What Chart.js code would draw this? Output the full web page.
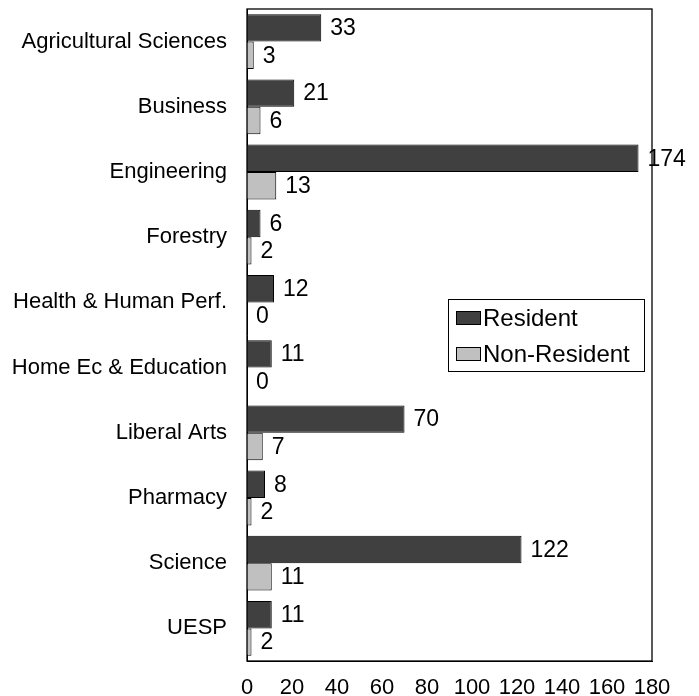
<!DOCTYPE html>
<html>
<head>
<meta charset="utf-8">
<script src="https://cdn.jsdelivr.net/npm/chart.js@4"></script>
<style>
html,body{margin:0;padding:0;background:#fff;}
#wrap{width:699px;height:696px;position:relative;}
</style>
</head>
<body>
<div id="wrap"><canvas id="c" width="699" height="696"></canvas></div>
<script>
const categories = ["Agricultural Sciences","Business","Engineering","Forestry","Health & Human Perf.","Home Ec & Education","Liberal Arts","Pharmacy","Science","UESP"];
const residentValues = [33,21,174,6,12,11,70,8,122,11];
const nonResidentValues = [3,6,13,2,0,0,7,2,11,2];
const xTicks = [0,20,40,60,80,100,120,140,160,180];

const FONT = "'Liberation Sans', Arial, sans-serif";
const FS = 22;
const VFS = 23;
const LFS = 24;

const boxPlugin = {
  id: 'boxPlugin',
  afterDatasetsDraw(chart) {
    const ctx = chart.ctx;
    const a = chart.chartArea;
    ctx.save();
    ctx.font = VFS + "px " + FONT;
    ctx.fillStyle = "#000";
    ctx.textAlign = "left";
    ctx.textBaseline = "middle";
    chart.data.datasets.forEach((ds, di) => {
      const meta = chart.getDatasetMeta(di);
      meta.data.forEach((bar, i) => {
        ctx.fillText(String(ds.data[i]), bar.x + 9, bar.y + 1);
      });
    });
    ctx.strokeStyle = "#000";
    ctx.lineWidth = 1.3;
    ctx.strokeRect(a.left, a.top, a.right - a.left, a.bottom - a.top);
    const lx = 448, ly = 299, lw = 196, lh = 72;
    ctx.fillStyle = "#fff";
    ctx.fillRect(lx, ly, lw, lh);
    ctx.lineWidth = 1;
    ctx.strokeRect(lx + 0.5, ly + 0.5, lw, lh);
    chart.data.datasets.forEach((ds, k) => {
      const cy = 318 + k * 36;
      ctx.fillStyle = ds.backgroundColor;
      ctx.fillRect(456, cy - 7, 25, 14);
      ctx.strokeStyle = "#000";
      ctx.strokeRect(456.5, cy - 6.5, 24, 13);
      ctx.fillStyle = "#000";
      ctx.font = LFS + "px " + FONT;
      ctx.textBaseline = "middle";
      ctx.fillText(ds.label, 483, cy + 1);
    });
    ctx.restore();
  }
};

new Chart(document.getElementById('c'), {
  type: 'bar',
  data: {
    labels: categories,
    datasets: [
      { label: 'Resident', data: residentValues, backgroundColor: '#404040', borderColor: '#000', borderWidth: 1, categoryPercentage: 0.84, barPercentage: 1.0 },
      { label: 'Non-Resident', data: nonResidentValues, backgroundColor: '#c0c0c0', borderColor: '#000', borderWidth: 1, categoryPercentage: 0.84, barPercentage: 1.0 }
    ]
  },
  options: {
    indexAxis: 'y',
    responsive: false,
    animation: false,
    layout: { padding: { left: 0, right: 47, top: 9, bottom: 0 } },
    plugins: { legend: { display: false }, tooltip: { enabled: false } },
    scales: {
      x: {
        min: 0, max: 180,
        afterBuildTicks(scale) { scale.ticks = xTicks.map(v => ({ value: v })); },
        grid: { display: false, drawTicks: false },
        border: { display: true, color: '#000', width: 1 },
        ticks: { color: '#000', font: { family: FONT, size: FS }, padding: 14, maxRotation: 0, autoSkip: false },
        afterFit(scale) { scale.height = 35; scale.paddingLeft = 0; scale.paddingRight = 0; }
      },
      y: {
        grid: { display: false, drawTicks: false },
        border: { display: true, color: '#000', width: 1 },
        ticks: { color: '#000', font: { family: FONT, size: FS }, padding: 20, autoSkip: false },
        afterFit(scale) { scale.width = 247; scale.paddingTop = 0; scale.paddingBottom = 0; }
      }
    }
  },
  plugins: [boxPlugin]
});
</script>
</body>
</html>
